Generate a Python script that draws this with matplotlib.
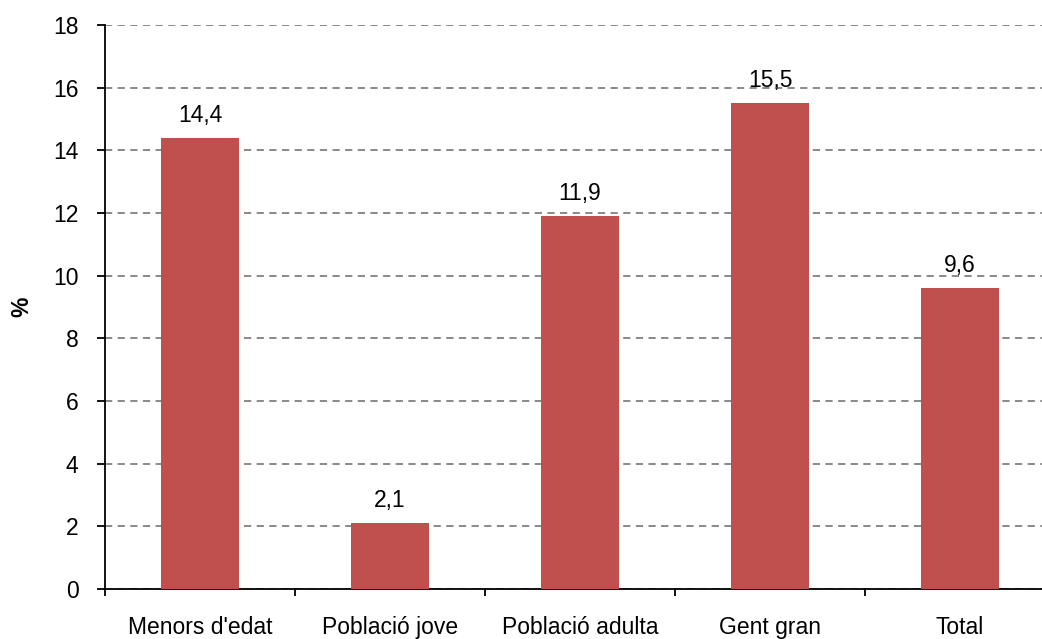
import matplotlib
matplotlib.use("Agg")
import matplotlib.pyplot as plt

categories = ["Menors d'edat", "Població jove", "Població adulta", "Gent gran", "Total"]
values = [14.4, 2.1, 11.9, 15.5, 9.6]
labels = ["14,4", "2,1", "11,9", "15,5", "9,6"]
yticks = [0, 2, 4, 6, 8, 10, 12, 14, 16, 18]

plt.rcParams['font.family'] = ['Liberation Sans', 'DejaVu Sans']
FS = 16.5

fig = plt.figure(figsize=(10.42, 6.39), dpi=100)
ax = fig.add_axes([105/1042, 1-589/639, 950/1042, 564/639])

x = list(range(len(categories)))
bars = ax.bar(x, values, width=0.41, color='#C0504D', zorder=3)
for xi, v, lab in zip(x, values, labels):
    ax.text(xi, v + 0.52, lab, ha='center', va='baseline', fontsize=FS, color='black')

ax.set_xlim(-0.5, len(categories) - 0.5)
ax.set_ylim(0, 18)
ax.set_yticks(yticks)
ax.set_yticklabels([str(t) for t in yticks], fontsize=FS)
ax.yaxis.grid(True, linestyle=(0, (4, 3)), color='#808080', linewidth=1.3, zorder=0)
ax.set_axisbelow(True)

ax.set_xticks([i - 0.5 for i in range(len(categories) + 1)])
ax.set_xticklabels([])
ax.set_xticks(x, minor=True)
ax.set_xticklabels(categories, minor=True, fontsize=FS)
ax.tick_params(axis='x', which='minor', length=0, pad=19.5)
ax.tick_params(axis='x', which='major', length=5, width=1.3, direction='out')
ax.tick_params(axis='y', length=6, width=1.3, direction='out', pad=13)

for s in ['top', 'right']:
    ax.spines[s].set_visible(False)
for s in ['left', 'bottom']:
    ax.spines[s].set_linewidth(1.3)
    ax.spines[s].set_color('black')

ax.set_ylabel('%', fontsize=FS, fontweight='bold', labelpad=14)

fig.savefig('out.png', dpi=100)
